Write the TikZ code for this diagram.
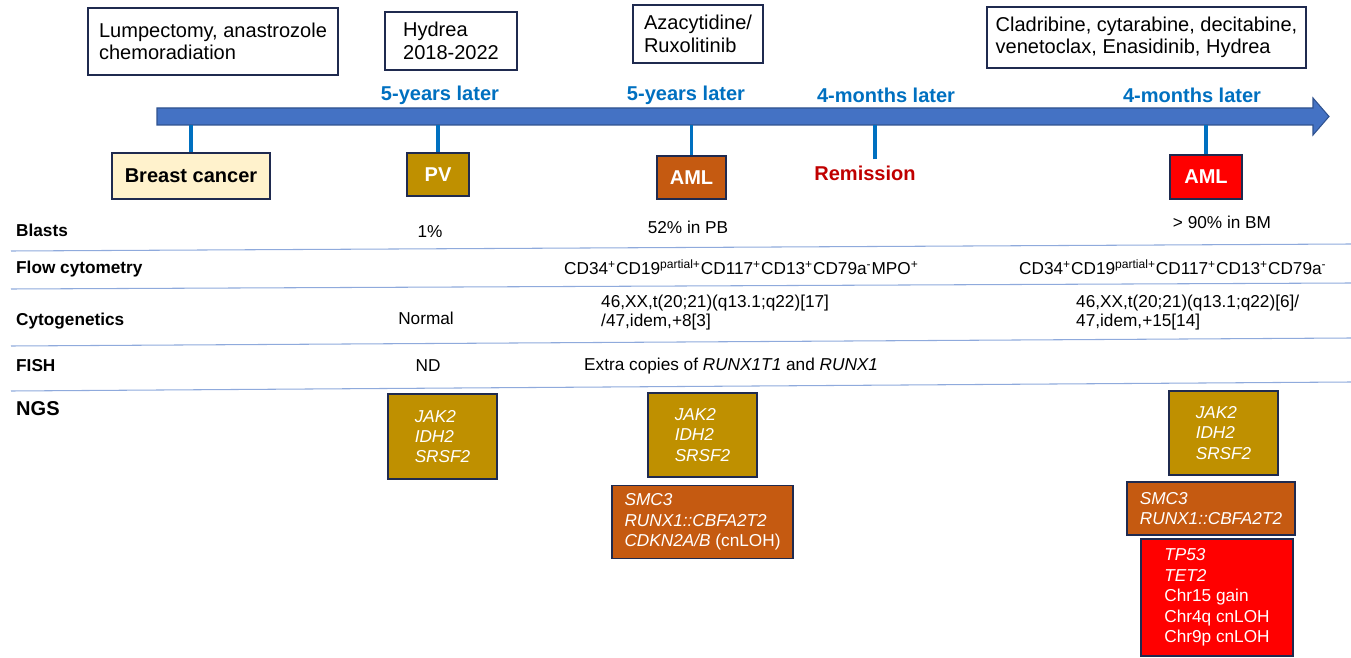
\documentclass[tikz,border=0pt]{standalone}
\usepackage{fontspec}
\setmainfont{Liberation Sans}
\usepackage{tikz}
\usetikzlibrary{positioning}
\usetikzlibrary{calc}

\definecolor{arrowblue}{HTML}{4472C4}
\definecolor{arrowedge}{HTML}{2F528F}
\definecolor{tickblue}{HTML}{0070C0}
\definecolor{pvgold}{HTML}{BF9000}
\definecolor{amlorange}{HTML}{C55A11}
\definecolor{amlred}{HTML}{FF0000}
\definecolor{bcyellow}{HTML}{FFF2CC}
\definecolor{remred}{HTML}{C00000}
\definecolor{boxline}{HTML}{1F2A4F}
\definecolor{ruleblue}{HTML}{8FAADC}

\newcommand\bigtxt{\fontsize{11.4}{12.8}\selectfont}
\newcommand\smalltxt{\fontsize{9.8}{11.6}\selectfont}
\newcommand\cytotxt{\fontsize{9.8}{10.8}\selectfont}

\tikzset{
  txbox/.style={draw=boxline, line width=0.9pt, fill=white, align=left, font=\bigtxt},
  stagebox/.style={draw=boxline, line width=0.9pt, font=\bigtxt\bfseries, text=white},
  later/.style={font=\bigtxt\bfseries, text=tickblue},
  rowlabel/.style={font=\smalltxt\bfseries, anchor=west},
  cell/.style={font=\smalltxt},
  ngsbox/.style={draw=boxline, line width=0.9pt, align=left, text=white, font=\smalltxt\itshape},
  tick/.style={draw=tickblue, line width=2.2pt},
  rowrule/.style={draw=ruleblue, line width=0.6pt},
}

\begin{document}
\begin{tikzpicture}[x=0.02cm, y=-0.02cm]
 \useasboundingbox (0,0) rectangle (1351,658);

 % time line
 \draw [draw=arrowedge, fill=arrowblue, line width=0.6pt] (157,108) -- (1313,108) -- (1313,98) -- (1329,116.5) -- (1313,135) -- (1313,125) -- (157,125) -- cycle;
 \coordinate (axis) at (157,125);

 % treatments
 \node (lump) at (213,41.5) [txbox, minimum width=5cm, minimum height=1.34cm] {Lumpectomy, anastrozole\\chemoradiation};
 \node (hydrea) at (451,41) [txbox, minimum width=2.64cm, minimum height=1.16cm] {Hydrea\\2018-2022};
 \node (aza) at (698,34) [txbox, minimum width=2.6cm, minimum height=1.16cm] {Azacytidine/\\Ruxolitinib};
 \node (clad) at (1146.5,37.5) [txbox, minimum width=6.38cm, minimum height=1.22cm] {Cladribine, cytarabine, decitabine,\\venetoclax, Enasidinib, Hydrea};

 \node (gap1) at (440,95) [later] {5-years later};
 \node (gap2) at (686,95) [later] {5-years later};
 \node (gap3) at (886,95) [later] {4-months later};
 \node (gap4) at (1192,95) [later] {4-months later};

 % stages
 \node (bc) at (191,176) [stagebox, fill=bcyellow, text=black, minimum width=3.16cm, minimum height=0.92cm] {Breast cancer};
 \node (pv) at (438,174.5) [stagebox, fill=pvgold, minimum width=1.24cm, minimum height=0.86cm] {PV};
 \node (aml) at (691.5,177.5) [stagebox, fill=amlorange, minimum width=1.38cm, minimum height=0.86cm] {AML};
 \node (rem) at (865,173) [font=\bigtxt\bfseries, text=remred] {Remission};
 \node (relapse) at (1206,177) [stagebox, fill=amlred, minimum width=1.44cm, minimum height=0.88cm] {AML};

 \draw [tick] (bc.north) -- (bc.north |- axis);
 \draw [tick] (pv.north) -- (pv.north |- axis);
 \draw [tick] (aml.north) -- (aml.north |- axis);
 \draw [tick] ([xshift=0.2cm]rem.north) -- ([xshift=0.2cm]rem.north |- axis);
 \draw [tick] (relapse.north) -- (relapse.north |- axis);

 % table
 \node (blasts) at (10,230) [rowlabel] {Blasts};
 \node (flow) [below=0.78cm of blasts.west, rowlabel] {Flow cytometry};
 \node (cyto) [below=1.04cm of flow.west, rowlabel] {Cytogenetics};
 \node (fish) [below=0.9cm of cyto.west, rowlabel] {FISH};
 \node (ngs) [below=0.86cm of fish.west, rowlabel, font=\bigtxt\bfseries] {NGS};

 \draw [rowrule] (11,251) -- (1351,244);
 \draw [rowrule] (11,289) -- (1351,283);
 \draw [rowrule] (11,346) -- (1351,338);
 \draw [rowrule] (11,391) -- (1351,382);

 \node (pvblasts) at (430,232) [cell] {1\%};
 \node (amlblasts) at (688,227) [cell] {52\% in PB};
 \node (relblasts) at (1222,222) [cell] {> 90\% in BM};

 \node (amlflow) at (558,267) [cell, anchor=west] {CD34\textsuperscript{+}CD19\textsuperscript{partial+}CD117\textsuperscript{+}CD13\textsuperscript{+}CD79a\textsuperscript{-}MPO\textsuperscript{+}};
 \node (relflow) at (1013,267) [cell, anchor=west] {CD34\textsuperscript{+}CD19\textsuperscript{partial+}CD117\textsuperscript{+}CD13\textsuperscript{+}CD79a\textsuperscript{-}};

 \node (pvcyto) at (426,318) [cell] {Normal};
 \node (amlcyto) at (595,313) [cell, anchor=west, align=left, font=\cytotxt] {46,XX,t(20;21)(q13.1;q22)[17]\\/47,idem,+8[3]};
 \node (relcyto) at (1070,313) [cell, anchor=west, align=left, font=\cytotxt] {46,XX,t(20;21)(q13.1;q22)[6]/\\47,idem,+15[14]};

 \node (pvfish) at (428,366) [cell] {ND};
 \node (amlfish) at (578,366) [cell, anchor=west] {Extra copies of \textit{RUNX1T1} and \textit{RUNX1}};

 % mutations
 \node (pvngs) at (442.5,436.5) [ngsbox, fill=pvgold, minimum width=2.18cm, minimum height=1.7cm] {JAK2\\IDH2\\SRSF2};
 \node (amlngs) at (702.5,435) [ngsbox, fill=pvgold, minimum width=2.18cm, minimum height=1.68cm] {JAK2\\IDH2\\SRSF2};
 \node (amlnew) [below=0.14cm of amlngs, ngsbox, fill=amlorange, minimum width=3.62cm, minimum height=1.46cm] {SMC3\\RUNX1::CBFA2T2\\CDKN2A/B \textup{(cnLOH)}};

 \node (relngs) at (1223.5,433) [ngsbox, fill=pvgold, minimum width=2.18cm, minimum height=1.68cm] {JAK2\\IDH2\\SRSF2};
 \node (relold) at (1211,508.5) [ngsbox, fill=amlorange, minimum width=3.36cm, minimum height=1.06cm] {SMC3\\RUNX1::CBFA2T2};
 \node (relnew) at (1217,597.5) [ngsbox, fill=amlred, minimum width=3.04cm, minimum height=2.34cm] {TP53\\TET2\\\textup{Chr15 gain}\\\textup{Chr4q cnLOH}\\\textup{Chr9p cnLOH}};
\end{tikzpicture}
\end{document}
